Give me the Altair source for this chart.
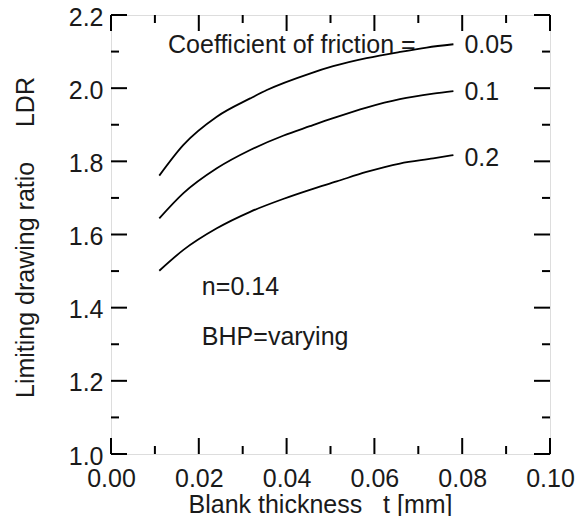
import altair as alt
import pandas as pd

# ---- data ----
t_005 = [0.0110, 0.0165, 0.0241, 0.0317, 0.0355, 0.0453, 0.0506, 0.0582, 0.0658, 0.0719, 0.0780]
ldr_005 = [1.761, 1.845, 1.922, 1.972, 1.995, 2.040, 2.060, 2.082, 2.099, 2.111, 2.120]

t_01 = [0.0110, 0.0165, 0.0241, 0.0317, 0.0392, 0.0453, 0.0506, 0.0582, 0.0658, 0.0734, 0.0780]
ldr_01 = [1.644, 1.713, 1.781, 1.831, 1.870, 1.896, 1.918, 1.947, 1.970, 1.985, 1.992]

t_02 = [0.0110, 0.0165, 0.0241, 0.0317, 0.0392, 0.0453, 0.0514, 0.0582, 0.0658, 0.0734, 0.0780]
ldr_02 = [1.501, 1.558, 1.617, 1.662, 1.697, 1.722, 1.745, 1.771, 1.794, 1.808, 1.817]

series_names = ["0.05", "0.1", "0.2"]
label_t = [0.0805, 0.0805, 0.0805]
label_ldr = [2.097, 1.968, 1.786]

note_texts = ["Coefficient of friction =", "n=0.14", "BHP=varying"]
note_t = [0.0130, 0.0207, 0.0207]
note_ldr = [2.097, 1.435, 1.298]

x_major = [0.00, 0.02, 0.04, 0.06, 0.08, 0.10]
x_minor = [0.01, 0.03, 0.05, 0.07, 0.09]
y_major = [1.0, 1.2, 1.4, 1.6, 1.8, 2.0, 2.2]
y_minor = [1.1, 1.3, 1.5, 1.7, 1.9, 2.1]

W = 439
H = 439
FONT = "Liberation Sans"
FS = 25
TXT = "#1a1a1a"

rows = []
for name, ts, vs in [("0.05", t_005, ldr_005), ("0.1", t_01, ldr_01), ("0.2", t_02, ldr_02)]:
    for i, (t, v) in enumerate(zip(ts, vs)):
        rows.append({"series": name, "t": t, "ldr": v, "order": i})
lines_df = pd.DataFrame(rows)

labels_df = pd.DataFrame({"text": series_names, "t": label_t, "ldr": label_ldr})
notes_df = pd.DataFrame({"text": note_texts, "t": note_t, "ldr": note_ldr})

xscale = alt.Scale(domain=[0.0, 0.10], nice=False, zero=False)
yscale = alt.Scale(domain=[1.0, 2.2], nice=False, zero=False)

xaxis = alt.Axis(values=x_major, format=".2f", tickSize=0, domain=False, grid=False,
                 labelPadding=12, labelFontSize=FS, labelFont=FONT, labelColor=TXT,
                 title="Blank thickness\u00a0\u00a0\u00a0t [mm]", titleFontSize=FS,
                 titleFont=FONT, titleFontWeight="normal", titleColor=TXT,
                 titleX=209, titleY=58, titleBaseline="alphabetic", titleAlign="center",
                 labelFlush=False)
yaxis = alt.Axis(values=y_major, format=".1f", tickSize=0, domain=False, grid=False,
                 labelPadding=8, labelOffset=2, labelFontSize=FS, labelFont=FONT, labelColor=TXT,
                 title="Limiting drawing ratio\u00a0\u00a0\u00a0\u00a0\u00a0LDR", titleFontSize=FS,
                 titleFont=FONT, titleFontWeight="normal", titleColor=TXT,
                 titleX=-78, titleY=222, titleBaseline="alphabetic", titleAlign="center",
                 titleAngle=270, labelFlush=False)

lines = alt.Chart(lines_df).mark_line(color="black", strokeWidth=1.8, interpolate="monotone").encode(
    x=alt.X("t:Q", scale=xscale, axis=xaxis),
    y=alt.Y("ldr:Q", scale=yscale, axis=yaxis),
    detail="series:N",
    order="order:Q",
)

curve_labels = alt.Chart(labels_df).mark_text(
    align="left", baseline="alphabetic", font=FONT, fontSize=FS, color=TXT
).encode(x=alt.X("t:Q", scale=xscale), y=alt.Y("ldr:Q", scale=yscale), text="text:N")

notes = alt.Chart(notes_df).mark_text(
    align="left", baseline="alphabetic", font=FONT, fontSize=FS, color=TXT
).encode(x=alt.X("t:Q", scale=xscale), y=alt.Y("ldr:Q", scale=yscale), text="text:N")


def xticks(vals, length):
    df = pd.DataFrame({"v": vals})
    bottom = alt.Chart(df).mark_rule(color="black", strokeWidth=2).encode(
        x=alt.X("v:Q", scale=xscale), y=alt.value(H), y2=alt.value(H - length))
    top = alt.Chart(df).mark_rule(color="black", strokeWidth=2).encode(
        x=alt.X("v:Q", scale=xscale), y=alt.value(0), y2=alt.value(length))
    return [bottom, top]


def yticks(vals, length):
    df = pd.DataFrame({"v": vals})
    left = alt.Chart(df).mark_rule(color="black", strokeWidth=2).encode(
        y=alt.Y("v:Q", scale=yscale), x=alt.value(0), x2=alt.value(length))
    right = alt.Chart(df).mark_rule(color="black", strokeWidth=2).encode(
        y=alt.Y("v:Q", scale=yscale), x=alt.value(W), x2=alt.value(W - length))
    return [left, right]


tick_layers = xticks(x_major, 16) + xticks(x_minor, 8) + yticks(y_major, 16) + yticks(y_minor, 8)

chart = alt.layer(lines, curve_labels, notes, *tick_layers).properties(
    width=W, height=H,
    padding={"left": 103, "top": 7, "right": 29, "bottom": 62},
    autosize=alt.AutoSizeParams(type="none"),
).configure_view(stroke="black", strokeWidth=2).configure(background="white")

chart.save("out.html", embed_options={"renderer": "svg", "actions": False})
